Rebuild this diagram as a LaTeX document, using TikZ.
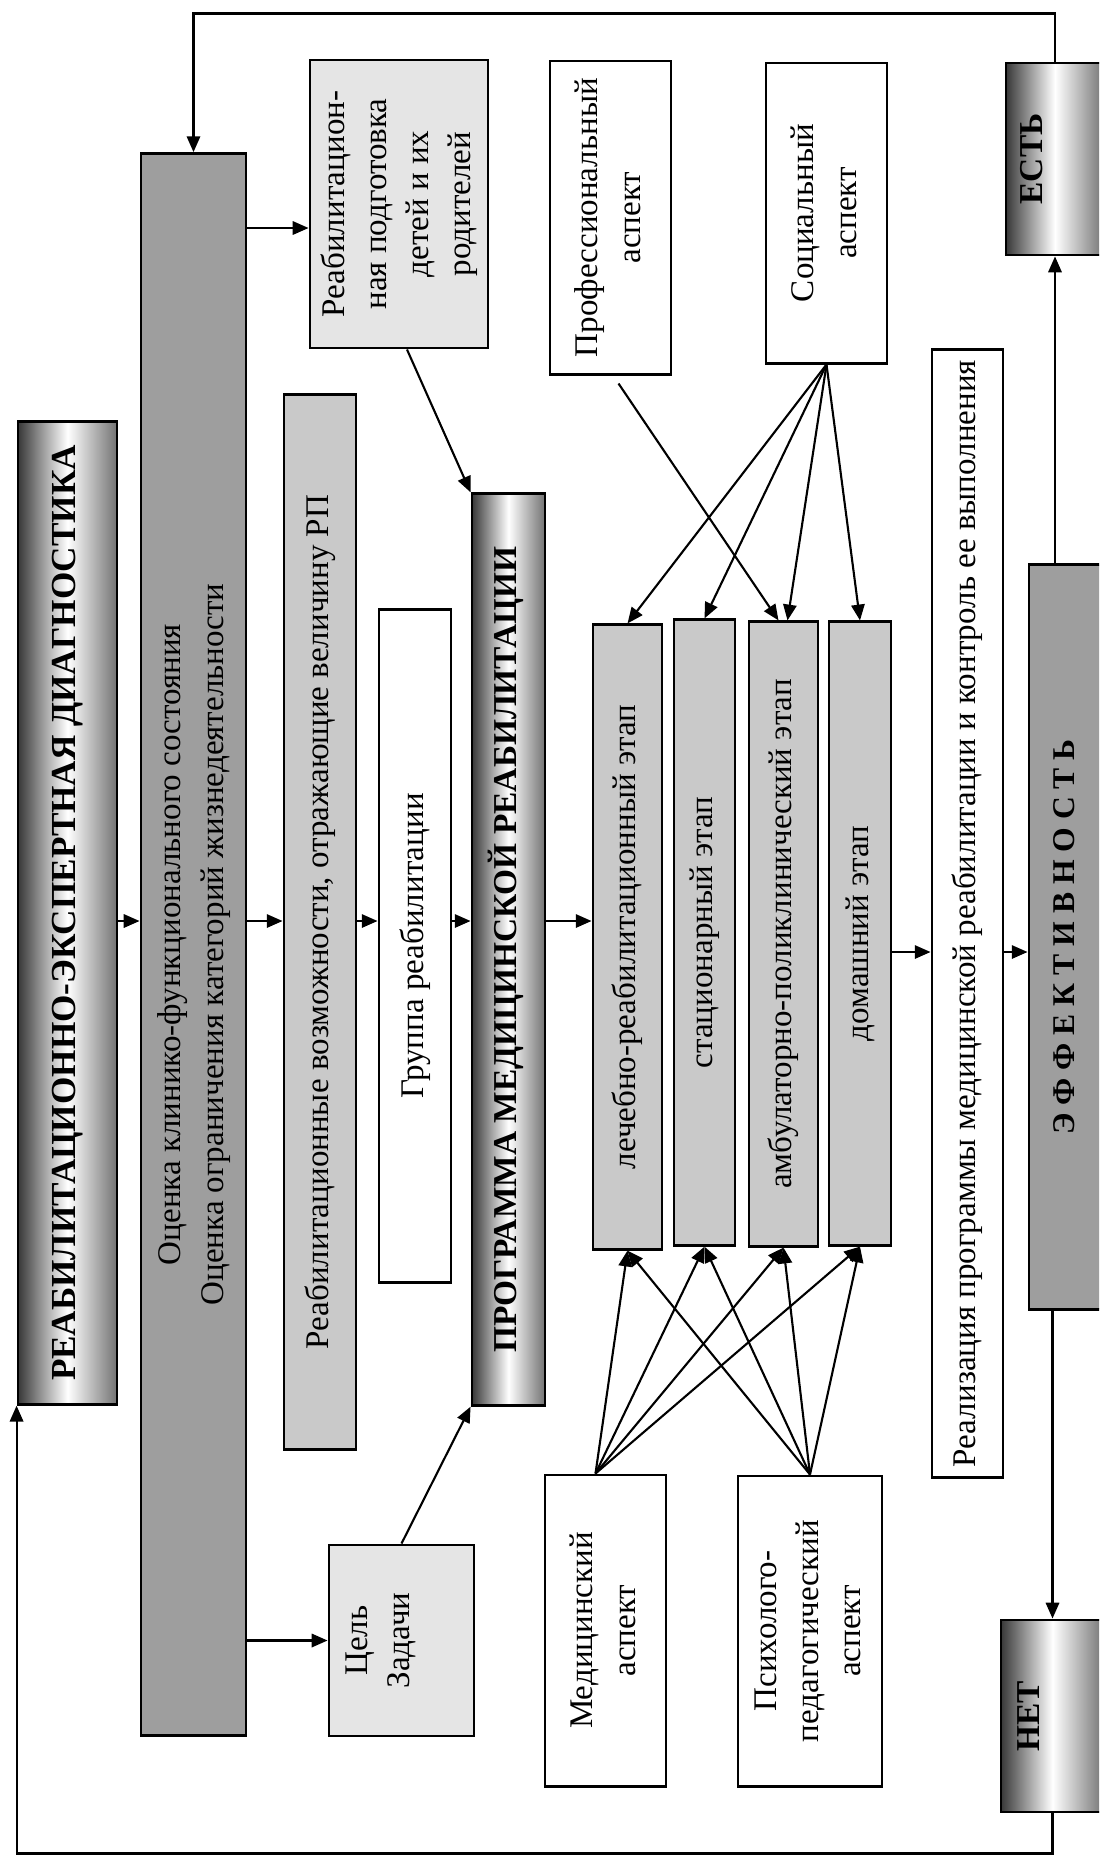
\documentclass[tikz,border=0pt]{standalone}
\usepackage{fontspec}
\setmainfont{Liberation Serif}
\usepackage{graphicx}
\usetikzlibrary{arrows.meta,calc}

\definecolor{ocenkagray}{gray}{0.62}
\definecolor{stagegray}{gray}{0.79}
\definecolor{palegray}{gray}{0.9}

% text turned to read from bottom to top
\newcommand{\vtxt}[1]{\rotatebox{90}{\begin{tabular}{@{}c@{}}#1\end{tabular}}}

\begin{document}
\begin{tikzpicture}[x=0.01cm, y=-0.01cm,
  >={Triangle[length=4.5pt,width=3.8pt]},
  box/.style  ={draw, line width=.8pt, inner sep=0pt, fill=white,
                font=\fontsize{9.4}{12}\selectfont},
  pale/.style ={box, fill=palegray},
  stage/.style={box, fill=stagegray},
  dark/.style ={box, fill=ocenkagray},
  bar/.style  ={box, left color=black!78, right color=black!55, middle color=white,
                font=\fontsize{10}{12}\selectfont\bfseries},
  arr/.style  ={->, line width=.6pt}]

  \clip (0,0) rectangle (1099,1857);

  % --- diagnostics and programme ------------------------------------------
  \node[bar, minimum width=0.99cm, minimum height=9.82cm] (diag) at (67.5,913)
    {\vtxt{РЕАБИЛИТАЦИОННО-ЭКСПЕРТНАЯ ДИАГНОСТИКА}};
  \node[dark, minimum width=1.05cm, minimum height=15.81cm] (ocenka) at (193.5,944.5)
    {\vtxt{Оценка клинико-функционального состояния\\
           Оценка ограничения категорий жизнедеятельности}};
  \node[pale, minimum width=1.78cm, minimum height=2.88cm] (podg) at (399,204)
    {\vtxt{Реабилитацион-\\ная подготовка\\детей и их\\родителей}};
  \node[stage, minimum width=0.72cm, minimum height=10.54cm] (vozm) at (320,922)
    {\vtxt{Реабилитационные возможности, отражающие величину РП}};
  \node[box, minimum width=0.72cm, minimum height=6.72cm] (gruppa) at (415,946)
    {\vtxt{Группа реабилитации}};
  \node[pale, minimum width=1.45cm, minimum height=1.91cm] (cel) at (401.5,1640.5)
    {\vtxt{Цель\\Задачи\\~}};
  \node[bar, font=\fontsize{9.5}{12}\selectfont\bfseries,
        minimum width=0.73cm, minimum height=9.11cm] (prog) at (508.5,949.5)
    {\vtxt{ПРОГРАММА МЕДИЦИНСКОЙ РЕАБИЛИТАЦИИ}};

  % --- aspects -------------------------------------------------------------
  \node[box, minimum width=1.21cm, minimum height=3.13cm] (prof) at (610.5,217.5)
    {\vtxt{Профессиональный\\аспект}};
  \node[box, minimum width=1.21cm, minimum height=3.00cm] (soc) at (826.5,213)
    {\vtxt{Социальный\\аспект}};
  \node[box, minimum width=1.21cm, minimum height=3.11cm] (med) at (605.5,1630.5)
    {\vtxt{Медицинский\\аспект}};
  \node[box, minimum width=1.44cm, minimum height=3.10cm] (psy) at (810,1631)
    {\vtxt{Психолого-\\педагогический\\аспект}};

  % --- stages --------------------------------------------------------------
  \node[stage, minimum width=0.69cm, minimum height=6.24cm] (lech) at (627.5,937)
    {\vtxt{лечебно-реабилитационный этап}};
  \node[stage, minimum width=0.61cm, minimum height=6.25cm] (stats) at (704.5,932.5)
    {\vtxt{стационарный этап}};
  \node[stage, minimum width=0.69cm, minimum height=6.24cm] (amb) at (783.5,934)
    {\vtxt{амбулаторно-поликлинический этап}};
  \node[stage, minimum width=0.62cm, minimum height=6.23cm] (dom) at (860,933.5)
    {\vtxt{домашний этап}};

  % --- result --------------------------------------------------------------
  \node[box, minimum width=0.71cm, minimum height=11.27cm] (real) at (967.5,913.5)
    {\vtxt{Реализация программы медицинской реабилитации и контроль ее выполнения}};
  \node[dark, font=\fontsize{9}{12}\selectfont\bfseries,
        minimum width=0.75cm, minimum height=7.44cm] (eff) at (1066.5,937)
    {\vtxt{Э Ф Ф Е К Т И В Н О С Т Ь}};
  \node[bar, font=\fontsize{9.5}{12}\selectfont\bfseries,
        minimum width=0.98cm, minimum height=1.92cm] (est) at (1055,159)
    {\vtxt{ЕСТЬ\\~}};
  \node[bar, font=\fontsize{9.5}{12}\selectfont\bfseries,
        minimum width=1.03cm, minimum height=1.92cm] (net) at (1052.5,1716)
    {\vtxt{НЕТ\\~}};

  % --- edges ---------------------------------------------------------------
  \coordinate (rowM) at (0,921);
  \coordinate (rowA) at (0,228);
  \coordinate (rowR) at (0,952);

  \foreach \a/\b in {diag/ocenka, ocenka/vozm, vozm/gruppa, gruppa/prog, prog/lech}
    \draw[arr] (\a.east |- rowM) -- (\b.west |- rowM);
  \draw[arr] (ocenka.east |- rowA) -- (podg.west |- rowA);
  \draw[arr] (ocenka.east |- cel.west) -- (cel.west);
  \draw[arr] ($(podg.south)+(8,0)$) -- (prog.north west);
  \draw[arr] (cel.north) -- (prog.south west);

  \draw[arr] ($(prof.south)+(8,8)$) -- ($(amb.north)+(-5,0)$);
  \foreach \t in {lech, stats, dom}
    \draw[arr] (soc.south) -- (\t.north);
  \draw[arr] (soc.south) -- ($(amb.north)+(4,0)$);
  \foreach \t in {lech, stats, amb, dom} {
    \draw[arr] ($(med.north)+(-10,0)$) -- (\t.south);
    \draw[arr] (psy.north) -- (\t.south);
  }

  \draw[arr] (dom.east |- rowR) -- (real.west |- rowR);
  \draw[arr] (real.east |- rowR) -- (eff.west |- rowR);
  \draw[arr] (est.south |- eff.north) -- (est.south);
  \draw[arr] (net.north |- eff.south) -- (net.north);

  % feedback
  \draw[arr] (est.north) -- ++(0,-48) -| (ocenka.north);
  \draw[arr] (net.south) -- ++(0,40) -| (diag.south west);
\end{tikzpicture}
\end{document}
